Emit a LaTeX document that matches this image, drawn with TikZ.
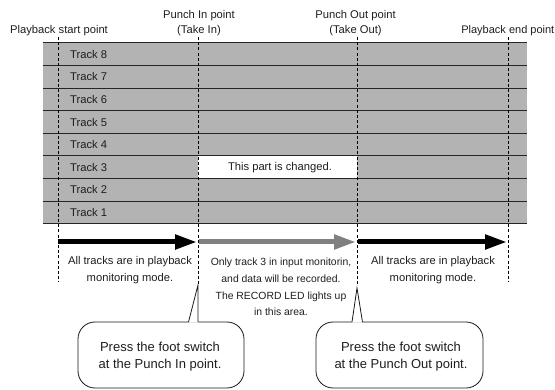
\documentclass[tikz,border=0pt]{standalone}
\usepackage{fontspec}
\setmainfont{Liberation Sans}
\usetikzlibrary{arrows.meta}
\definecolor{trk}{RGB}{179,179,179}
\definecolor{txt}{RGB}{30,30,30}
\definecolor{garrow}{RGB}{128,128,128}
\begin{document}
\begin{tikzpicture}[x=1pt,y=-1pt,
  font=\fontsize{11.2}{16.6}\selectfont, text=txt,
  rowline/.style={draw=black!85, line width=1pt},
  marker/.style={draw=black, dash pattern=on 3pt off 2.2pt, line width=0.9pt},
  bigarrow/.style={line width=5pt, -{Triangle[length=22pt,width=14pt]}},
  lbl/.style={inner sep=0pt, align=center},
  midlbl/.style={inner sep=0pt, align=center, font=\fontsize{10.4}{16.7}\selectfont},
  toplbl/.style={inner sep=0pt, align=center, font=\fontsize{11.2}{15}\selectfont},
  trklbl/.style={inner sep=0pt, anchor=west},
  calltxt/.style={inner sep=0pt, align=center, font=\fontsize{13}{17}\selectfont},
  callout/.style={draw=black!90, line width=0.8pt, rounded corners=17pt, fill=white},
  pointer/.style={draw=black!90, line width=0.8pt}]

\useasboundingbox (0,0) rectangle (555,390);

% track area
\fill[trk] (43,43) rectangle (527,224);
\fill[white] (198,156) rectangle (357,179);
\foreach \y in {43,65.6,88.2,110.8,133.4,156,178.6,201.2,223.8}
  \draw[rowline] (43,\y) -- (527,\y);

% track labels
\node[trklbl] (t8) at (70,54.3) {Track 8};
\node[trklbl] (t7) at (70,76.9) {Track 7};
\node[trklbl] (t6) at (70,99.5) {Track 6};
\node[trklbl] (t5) at (70,122.1) {Track 5};
\node[trklbl] (t4) at (70,144.7) {Track 4};
\node[trklbl] (t3) at (70,167.3) {Track 3};
\node[trklbl] (t2) at (70,189.9) {Track 2};
\node[trklbl] (t1) at (70,212.5) {Track 1};
\node[inner sep=0pt] (chg) at (280,167.3) {This part is changed.};

% marker coordinates
\coordinate (pstop) at (58,37);   \coordinate (psbot) at (58,282);
\coordinate (pitop) at (198,37);  \coordinate (pibot) at (198,285);
\coordinate (potop) at (357,37);  \coordinate (pobot) at (357,285);
\coordinate (petop) at (508,37);  \coordinate (pebot) at (508,282);

\draw[marker] (pstop) -- (psbot);
\draw[marker] (pitop) -- (pibot);
\draw[marker] (potop) -- (pobot);
\draw[marker] (petop) -- (pebot);

% top labels
\node[toplbl] (lps) at (59,31) {Playback start point};
\node[toplbl] (lpi) at (199,23.5) {Punch In point\\(Take In)};
\node[toplbl] (lpo) at (355.5,23.5) {Punch Out point\\(Take Out)};
\node[toplbl, font=\fontsize{11}{15}\selectfont, anchor=east] (lpe) at (554.5,31) {Playback end point};

% arrows
\coordinate (a0) at (58,242);
\coordinate (a1) at (197,242);
\coordinate (a2) at (199,242);
\coordinate (a3) at (356,242);
\coordinate (a4) at (358,242);
\coordinate (a5) at (507,242);
\draw[bigarrow, black] (a0) -- (a1);
\draw[bigarrow, garrow] (a2) -- (a3);
\draw[bigarrow, black] (a4) -- (a5);

% descriptions
\node[lbl] (dl) at (130,270) {All tracks are in playback\\monitoring mode.};
\node[midlbl] (dm) at (281,287) {Only track 3 in input monitorin,\\and data will be recorded.\\The RECORD LED lights up\\in this area.};
\node[lbl] (dr) at (433,270) {All tracks are in playback\\monitoring mode.};

% callouts
\draw[callout] (78,322) rectangle (244,388);
\coordinate (tipin) at (198,285);
\fill[white] (188.5,322.7) -- (tipin) -- (198,322.7) -- cycle;
\draw[pointer] (188.5,322) -- (tipin) -- (198,322);
\node[calltxt] (cin) at (160,356.5) {Press the foot switch\\at the Punch In point.};

\draw[callout] (316,322) rectangle (483,388);
\coordinate (tipout) at (357,288);
\fill[white] (352,322.7) -- (tipout) -- (362.5,322.7) -- cycle;
\draw[pointer] (352,322) -- (tipout) -- (362.5,322);
\node[calltxt] (cout) at (401,356.5) {Press the foot switch\\at the Punch Out point.};
\end{tikzpicture}
\end{document}
